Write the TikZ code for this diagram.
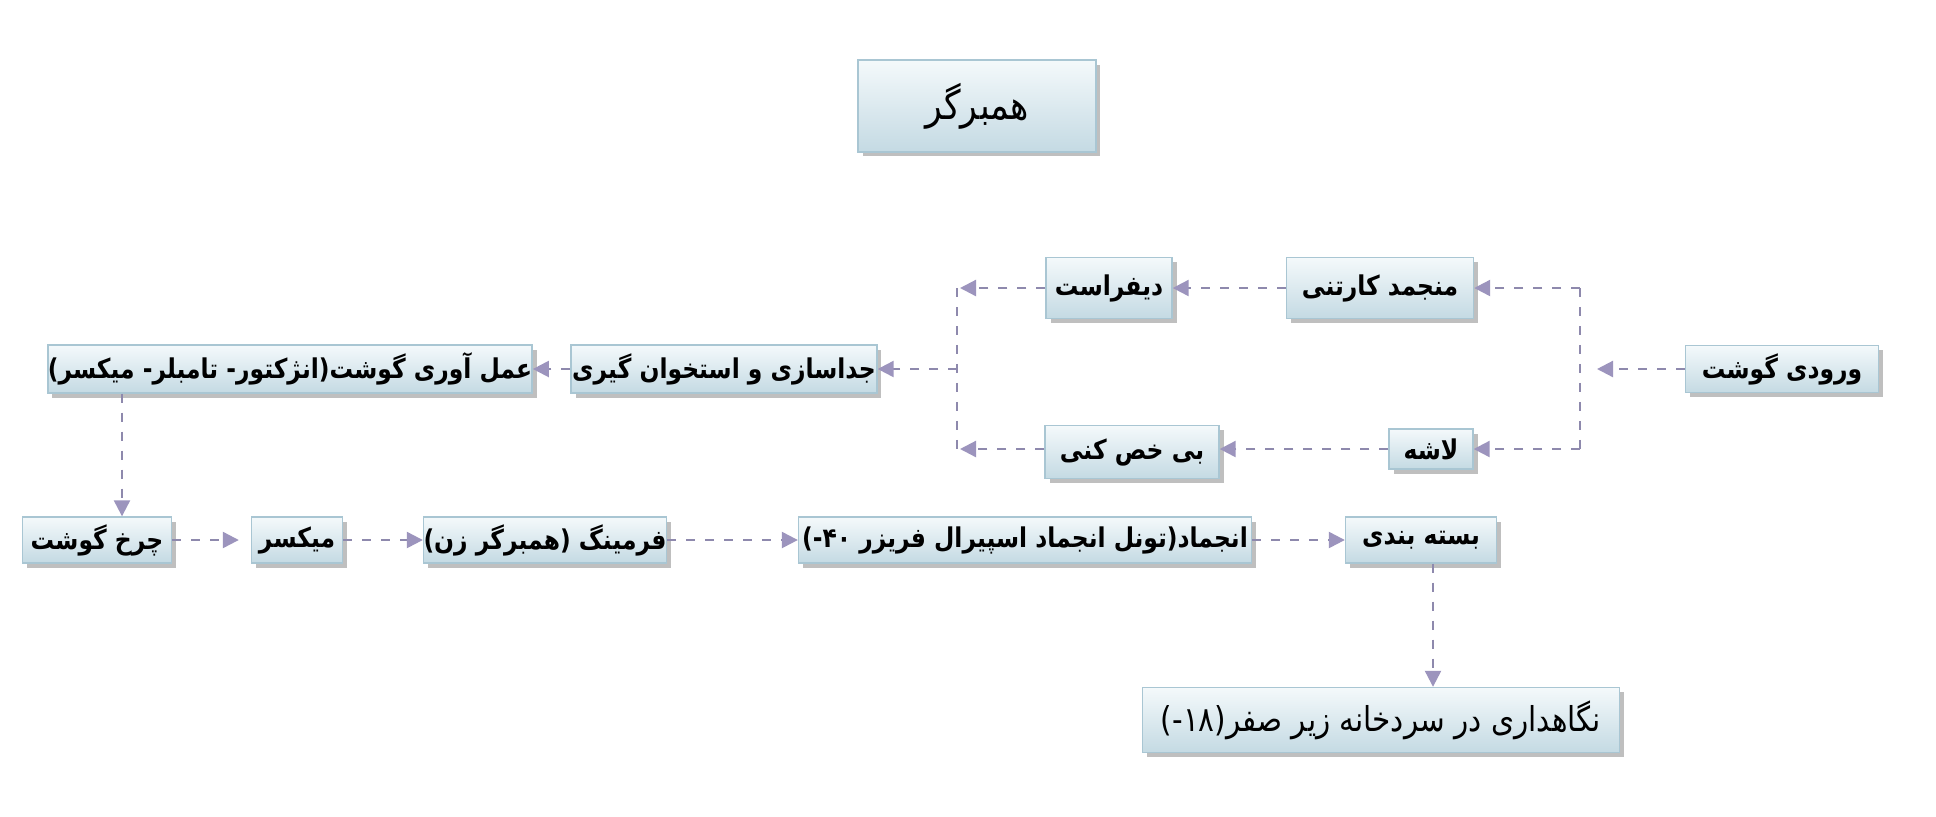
\documentclass[tikz,border=0pt]{standalone}
\usepackage{fontspec}
\newfontfamily\fa[Script=Arabic, FakeStretch=0.86]{DejaVu Sans}
\TeXXeTstate=1
\usetikzlibrary{arrows.meta, shadows}

\definecolor{boxtop}{HTML}{F4F9FB}
\definecolor{boxbot}{HTML}{C4DAE3}
\definecolor{boxline}{HTML}{A9C6D3}
\definecolor{flowline}{HTML}{8E89AD}
\definecolor{flowtip}{HTML}{9C94BD}

\newcommand{\rtltext}[1]{\beginR #1\endR}

\begin{document}
\begin{tikzpicture}[x=0.02cm, y=-0.02cm,
    box/.style={draw=boxline, line width=0.8pt, top color=boxtop, bottom color=boxbot,
      drop shadow={shadow xshift=0.09cm, shadow yshift=-0.09cm, fill=black!45, opacity=0.55},
      inner sep=0pt, font=\fontsize{15.5}{18}\selectfont\fa\bfseries},
    link/.style={draw=flowline, line width=1.3pt, dash pattern=on 0.18cm off 0.2cm},
    flow/.style={link, -{Triangle[length=0.32cm, width=0.32cm, color=flowtip]}}]
    \useasboundingbox[fill=white] (0,0) rectangle (1936,816);

    \node[box, minimum width=4.76cm, minimum height=1.84cm, font=\fontsize{23}{27}\selectfont\fa] (title) at (977,106) {\rtltext{همبرگر}};

    \node[box, minimum width=3.74cm, minimum height=1.22cm] (carton) at (1380,288) {\rtltext{منجمد کارتنی}};
    \node[box, minimum width=2.52cm, minimum height=1.22cm] (thaw) at (1109,288) {\rtltext{دیفراست}};
    \node[box, minimum width=3.86cm, minimum height=0.94cm] (meatin) at (1782,369) {\rtltext{ورودی گوشت}};
    \node[box, minimum width=1.68cm, minimum height=0.80cm] (carcass) at (1431,449) {\rtltext{لاشه}};
    \node[box, minimum width=3.48cm, minimum height=1.06cm] (trim) at (1132,452) {\rtltext{بی خص کنی}};
    \node[box, minimum width=6.12cm, minimum height=0.96cm] (bone) at (724,369) {\rtltext{جداسازی و استخوان گیری}};
    \node[box, minimum width=9.66cm, minimum height=0.96cm] (cure) at (290,369) {\rtltext{عمل آوری گوشت(انژکتور- تامبلر- میکسر)}};

    \node[box, minimum width=2.98cm, minimum height=0.92cm] (grind) at (97,540) {\rtltext{چرخ گوشت}};
    \node[box, minimum width=1.82cm, minimum height=0.92cm] (mix) at (297,540) {\rtltext{میکسر}};
    \node[box, minimum width=4.86cm, minimum height=0.92cm] (form) at (545,540) {\rtltext{فرمینگ (همبرگر زن)}};
    \node[box, minimum width=9.06cm, minimum height=0.92cm] (freeze) at (1025,540) {\rtltext{انجماد(تونل انجماد اسپیرال فریزر ۴۰-)}};
    \node[box, minimum width=3.02cm, minimum height=0.92cm] (pack) at (1421,540) {\rtltext{بسته بندی}};
    \node[box, minimum width=9.54cm, minimum height=1.30cm, font=\fontsize{19.5}{23}\selectfont\fa] (store) at (1381,720) {\rtltext{نگاهداری در سردخانه زیر صفر(۱۸-)}};

    % junctions
    \coordinate (jR) at (1580,369);
    \coordinate (jL) at (957,369);
    \coordinate (jD) at (122,0);
    \coordinate (jP) at (1433,0);

    \draw[flow] (meatin.west) -- ([xshift=0.34cm]jR);
    \draw[link] (jR |- carton) -- (jR |- carcass);
    \draw[flow] (jR |- carton) -- (carton.east);
    \draw[flow] (jR |- carcass) -- (carcass.east);

    \draw[flow] (carton) -- (thaw);
    \draw[flow] (carcass.west) -- (trim.east |- carcass.west);
    \draw[flow] (thaw.west) -- ([xshift=0.06cm]jL |- thaw);
    \draw[flow] (trim.west |- carcass) -- ([xshift=0.06cm]jL |- carcass);
    \draw[link] (jL |- thaw) -- (jL |- carcass);

    \draw[flow] (jL) -- (bone.east);
    \draw[flow] (bone) -- (cure);
    \draw[flow] (cure.south -| jD) -- (grind.north -| jD);

    \draw[flow, shorten >=0.24cm] (grind) -- (mix);
    \draw[flow] (mix) -- (form);
    \draw[flow] (form) -- (freeze);
    \draw[flow] (freeze) -- (pack);
    \draw[flow] (pack.south -| jP) -- (store.north -| jP);
\end{tikzpicture}
\end{document}
